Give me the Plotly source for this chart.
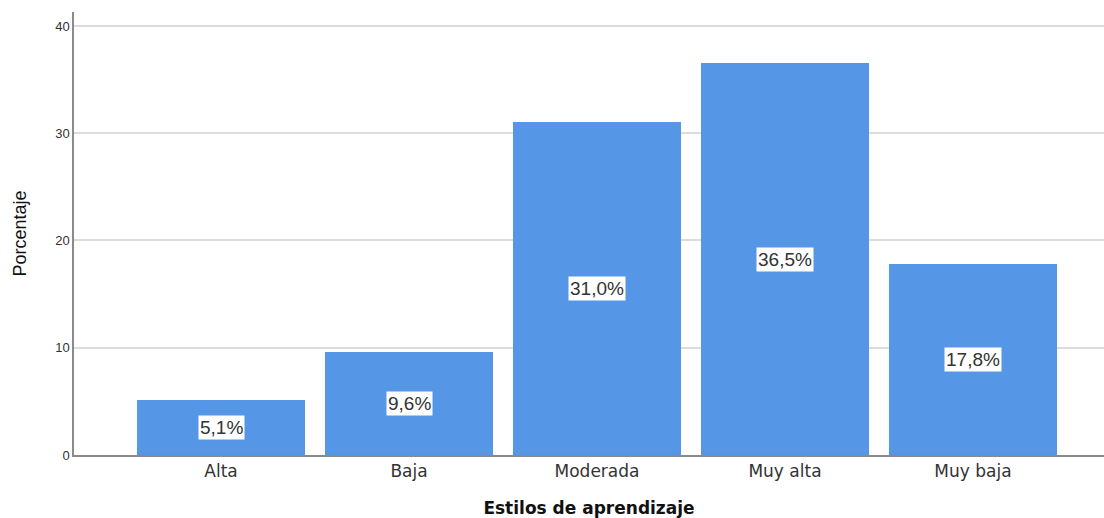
import plotly.graph_objects as go

categories = ["Alta", "Baja", "Moderada", "Muy alta", "Muy baja"]
values = [5.1, 9.6, 31.0, 36.5, 17.8]
labels = ["5,1%", "9,6%", "31,0%", "36,5%", "17,8%"]
y_ticks = [0, 10, 20, 30, 40]

fig = go.Figure()
fig.add_trace(go.Bar(
    x=categories, y=values,
    marker=dict(color="#5596e6", line=dict(width=0)),
    width=0.895,
    hoverinfo="skip",
))

for c, v, t in zip(categories, values, labels):
    fig.add_annotation(
        x=c, y=v / 2, text=t, showarrow=False,
        bgcolor="white", borderpad=1,
        font=dict(family="Liberation Sans, Arial", size=19, color="#333333"),
    )

fig.update_layout(
    width=1104, height=518,
    margin=dict(l=74, r=0, t=12, b=63),
    paper_bgcolor="white", plot_bgcolor="white",
    showlegend=False,
    bargap=0,
    xaxis=dict(
        range=[-0.782, 4.697],
        automargin=False,
        showline=True, linecolor="#8a8a8a", linewidth=1.5,
        ticks="", showgrid=False,
        tickfont=dict(family="DejaVu Sans", size=17, color="#333333"),
        title=dict(text="<b>Estilos de aprendizaje</b>", standoff=28,
                   font=dict(family="DejaVu Sans", size=17, color="#111111")),
    ),
    yaxis=dict(
        range=[0, 41.3],
        automargin=False,
        tickvals=y_ticks,
        showline=True, linecolor="#8a8a8a", linewidth=1.5,
        showgrid=True, gridcolor="#dcdcdc", gridwidth=1.5,
        zeroline=False,
        ticks="", ticklen=0,
        tickfont=dict(family="Liberation Sans, Arial", size=13, color="#333333"),
        title=dict(text="Porcentaje", standoff=24,
                   font=dict(family="Liberation Sans, Arial", size=18, color="#111111")),
    ),
)

fig.write_html("out.html", config={"displayModeBar": False},
               post_script="document.body.style.margin='0';")
